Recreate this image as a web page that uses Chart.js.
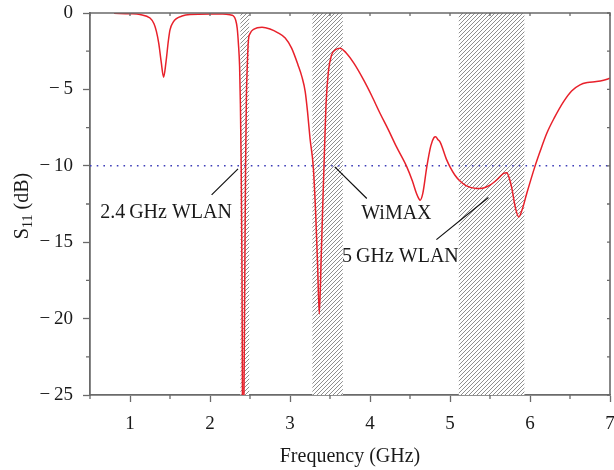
<!DOCTYPE html>
<html><head><meta charset="utf-8">
<script src="https://cdn.jsdelivr.net/npm/chart.js@4"></script>
<style>html,body{margin:0;padding:0;background:#fff}#wrap{width:614px;height:470px}</style>
</head><body><div id="wrap"><canvas id="c" width="614" height="470"></canvas></div>
<script>
// ---- data ----
const freqGHz = [0.8,1.0,1.125,1.25,1.3,1.33,1.36,1.39,1.42,1.45,1.48,1.5,1.54,1.58,1.65,1.75,2.0,2.16,2.25,2.29,2.32,2.34,2.355,2.37,2.38,2.39,2.40,2.412,2.425,2.435,2.445,2.455,2.465,2.48,2.50,2.55,2.65,2.75,2.85,2.94,3.02,3.10,3.15,3.19,3.22,3.25,3.29,3.32,3.345,3.366,3.39,3.41,3.425,3.45,3.48,3.52,3.57,3.625,3.7,3.8,3.92,4.02,4.125,4.23,4.33,4.46,4.53,4.58,4.61,4.625,4.66,4.71,4.76,4.8,4.82,4.85,4.875,4.96,5.0,5.06,5.125,5.2,5.33,5.42,5.5,5.6,5.67,5.71,5.74,5.77,5.82,5.86,5.9,5.96,6.06,6.13,6.21,6.3,6.42,6.52,6.625,6.72,6.83,6.92,7.0];
const s11dB = [-0.02,-0.05,-0.1,-0.33,-0.7,-1.2,-2.0,-3.2,-4.2,-3.2,-1.8,-1.1,-0.6,-0.37,-0.2,-0.1,-0.06,-0.07,-0.12,-0.18,-0.45,-1.0,-2.0,-3.5,-6,-10,-17,-32,-25,-17,-10,-5.5,-3.6,-1.8,-1.35,-1.05,-0.94,-1.05,-1.3,-1.64,-2.3,-3.4,-4.2,-5.14,-6.5,-8.2,-10,-13,-16.5,-19.7,-16,-12.5,-10,-6.0,-3.83,-2.74,-2.4,-2.3,-2.6,-3.3,-4.38,-5.4,-6.56,-7.65,-8.75,-10.07,-11.0,-11.8,-12.15,-12.25,-11.8,-10.07,-8.7,-8.15,-8.1,-8.3,-8.43,-9.63,-10.07,-10.6,-11.0,-11.3,-11.49,-11.45,-11.27,-10.85,-10.5,-10.46,-10.8,-11.4,-12.8,-13.35,-12.9,-11.8,-10.07,-9.0,-7.87,-6.9,-5.8,-5.1,-4.7,-4.55,-4.49,-4.4,-4.27];
const refLevel = -10;
const bandStart = [2.38, 3.28, 5.11];
const bandEnd = [2.49, 3.66, 5.93];
const labelText = ['2.4\u2009GHz WLAN', 'WiMAX', '5\u2009GHz WLAN'];
const labelX = [1.45, 4.33, 4.38];
const labelY = [-13.1, -13.12, -15.93];
const pointerX1 = [2.02, 3.96, 4.83];
const pointerY1 = [-11.9, -12.14, -14.83];
const pointerX2 = [2.35, 3.56, 5.48];
const pointerY2 = [-10.2, -10.07, -12.07];
const xMajorTicks = [1, 2, 3, 4, 5, 6, 7];
const xMinorTicks = [0.5, 1.5, 2.5, 3.5, 4.5, 5.5, 6.5];
const yMajorTicks = [0, -5, -10, -15, -20, -25];
const yMinorTicks = [-2.5, -7.5, -12.5, -17.5, -22.5];

const FONT = '"Liberation Serif", "Times New Roman", serif';
const AXIS = '#6a6a6a';

// hatch pattern
const pc = document.createElement('canvas');
const P = 4; pc.width = P; pc.height = P;
const pctx = pc.getContext('2d');
pctx.fillStyle = '#ffffff'; pctx.fillRect(0,0,P,P);
pctx.strokeStyle = '#8e8e8e'; pctx.lineWidth = 1.0;
pctx.beginPath();
pctx.moveTo(-1, P+1); pctx.lineTo(P+1, -1);
pctx.moveTo(-1, 1); pctx.lineTo(1, -1);
pctx.moveTo(P-1, P+1); pctx.lineTo(P+1, P-1);
pctx.stroke();

const decor = {
  id: 'decor',
  beforeDatasetsDraw(chart) {
    const {ctx, chartArea: a, scales: {x, y}} = chart;
    const pat = ctx.createPattern(pc, 'repeat');
    ctx.save();
    ctx.beginPath(); ctx.rect(a.left, a.top, a.right - a.left, a.bottom - a.top); ctx.clip();
    for (let i = 0; i < bandStart.length; i++) {
      const x0 = x.getPixelForValue(bandStart[i]), x1 = x.getPixelForValue(bandEnd[i]);
      ctx.fillStyle = pat;
      ctx.fillRect(x0, a.top, x1 - x0, a.bottom - a.top);
    }
    ctx.restore();
  },
  afterDraw(chart) {
    const {ctx, chartArea: a, scales: {x, y}} = chart;
    ctx.save();
    ctx.strokeStyle = AXIS; ctx.lineWidth = 1.6;
    ctx.beginPath();
    ctx.moveTo(a.left, a.top); ctx.lineTo(a.right, a.top); ctx.lineTo(a.right, a.bottom);
    ctx.stroke();
    ctx.lineWidth = 1.3;
    ctx.beginPath();
    xMinorTicks.forEach(v => { const px = x.getPixelForValue(v); ctx.moveTo(px, a.bottom); ctx.lineTo(px, a.bottom + 4); });
    yMinorTicks.forEach(v => { const py = y.getPixelForValue(v); ctx.moveTo(a.left, py); ctx.lineTo(a.left - 4, py); });
    xMajorTicks.concat(xMinorTicks).forEach(v => { const px = x.getPixelForValue(v); ctx.moveTo(px, a.top); ctx.lineTo(px, a.top + 3); });
    yMajorTicks.concat(yMinorTicks).forEach(v => { const py = y.getPixelForValue(v); ctx.moveTo(a.right, py); ctx.lineTo(a.right - 3, py); });
    ctx.stroke();
    ctx.strokeStyle = '#111'; ctx.lineWidth = 1.2;
    ctx.beginPath();
    for (let i = 0; i < pointerX1.length; i++) {
      ctx.moveTo(x.getPixelForValue(pointerX1[i]), y.getPixelForValue(pointerY1[i]));
      ctx.lineTo(x.getPixelForValue(pointerX2[i]), y.getPixelForValue(pointerY2[i]));
    }
    ctx.stroke();
    ctx.fillStyle = '#1a1a1a';
    ctx.font = '20px ' + FONT;
    ctx.textAlign = 'center'; ctx.textBaseline = 'middle';
    for (let i = 0; i < labelText.length; i++) {
      ctx.fillText(labelText[i], x.getPixelForValue(labelX[i]), y.getPixelForValue(labelY[i]));
    }
    const cy = (a.top + a.bottom) / 2 + 2;
    ctx.translate(21, cy);
    ctx.rotate(-Math.PI / 2);
    ctx.textAlign = 'left'; ctx.textBaseline = 'alphabetic';
    const big = '20px ' + FONT, small = '14px ' + FONT;
    ctx.font = big; const wS = ctx.measureText('S').width; const wR = ctx.measureText(' (dB)').width;
    ctx.font = small; const wSub = ctx.measureText('11').width;
    let sx = -(wS + wSub + wR) / 2;
    const base = 7;
    ctx.font = big; ctx.fillText('S', sx, base); sx += wS;
    ctx.font = small; ctx.fillText('11', sx, base + 4); sx += wSub;
    ctx.font = big; ctx.fillText(' (dB)', sx, base);
    ctx.restore();
  }
};

new Chart(document.getElementById('c'), {
  type: 'line',
  data: {
    datasets: [
      {
        data: freqGHz.map((f, i) => ({x: f, y: s11dB[i]})),
        borderColor: '#e8212b', borderWidth: 1.5, pointRadius: 0,
        cubicInterpolationMode: 'monotone', order: 0
      },
      {
        data: [{x: 0.5, y: refLevel}, {x: 7, y: refLevel}],
        borderColor: '#3d3db8', borderWidth: 1.6, borderDash: [1.6, 5.1],
        pointRadius: 0, order: 1
      }
    ]
  },
  options: {
    responsive: false, animation: false, devicePixelRatio: 1,
    layout: {padding: {left: 0, right: 4, top: 13, bottom: 0}},
    plugins: {legend: {display: false}, tooltip: {enabled: false}},
    scales: {
      x: {
        type: 'linear', min: 0.5, max: 7,
        afterBuildTicks: s => { s.ticks = xMajorTicks.map(v => ({value: v})); },
        afterFit: s => { s.height = 75; s.paddingLeft = 0; s.paddingRight = 0; },
        grid: {drawOnChartArea: false, tickLength: 7, tickColor: AXIS, tickWidth: 1.3},
        border: {color: AXIS, width: 1.8},
        ticks: {font: {family: FONT, size: 19}, color: '#1a1a1a', padding: 11, maxRotation: 0,
                callback: v => String(v)},
        title: {display: true, text: 'Frequency (GHz)', font: {family: FONT, size: 20}, color: '#1a1a1a', padding: {top: 0, bottom: 1}}
      },
      y: {
        type: 'linear', min: -25, max: 0,
        afterBuildTicks: s => { s.ticks = yMajorTicks.map(v => ({value: v})); },
        afterFit: s => { s.width = 90; s.paddingTop = 0; s.paddingBottom = 0; },
        grid: {drawOnChartArea: false, tickLength: 7, tickColor: AXIS, tickWidth: 1.3},
        border: {color: AXIS, width: 1.8},
        ticks: {font: {family: FONT, size: 19}, color: '#1a1a1a', padding: 10,
                callback: v => v === 0 ? '0' : '\u2212\u2009' + Math.abs(v)}
      }
    }
  },
  plugins: [decor]
});
</script></body></html>
